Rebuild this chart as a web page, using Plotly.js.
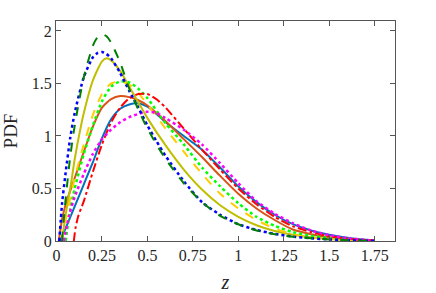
<!DOCTYPE html>
<html><head><meta charset="utf-8">
<script src="https://cdn.plot.ly/plotly-3.0.1.min.js"></script>
<style>html,body{margin:0;padding:0;background:#fff}#g{width:436px;height:293px}</style>
</head><body><div id="g"></div>
<script>
// --- data ---
const zCyan = [0.02,0.05,0.1,0.15,0.2,0.25,0.3,0.35,0.4,0.45,0.5,0.55,0.6,0.7,0.8,0.9,1.0,1.1,1.2,1.3,1.4,1.5,1.6,1.7,1.75];
const pCyan = [0,0.12,0.33,0.54,0.75,0.98,1.16,1.26,1.3,1.31,1.28,1.21,1.13,1.0,0.87,0.70,0.52,0.37,0.25,0.16,0.1,0.06,0.03,0.012,0.006];

const zOrange = [0.012,0.03,0.05,0.1,0.15,0.2,0.25,0.3,0.35,0.4,0.45,0.5,0.6,0.7,0.8,0.9,1.0,1.1,1.2,1.3,1.4,1.5,1.6,1.7,1.75];
const pOrange = [0,0.2,0.35,0.6,0.85,1.09,1.27,1.35,1.38,1.37,1.34,1.29,1.14,0.97,0.8,0.62,0.45,0.31,0.20,0.11,0.065,0.035,0.016,0.006,0.003];

const zOlive = [0.03,0.05,0.08,0.1,0.13,0.15,0.2,0.25,0.275,0.3,0.35,0.4,0.45,0.5,0.6,0.7,0.8,0.9,1.0,1.1,1.2,1.3,1.4,1.5,1.6,1.7,1.75];
const pOlive = [0,0.25,0.55,0.78,1.06,1.22,1.53,1.71,1.74,1.72,1.62,1.47,1.32,1.17,0.91,0.68,0.49,0.34,0.23,0.15,0.095,0.06,0.035,0.02,0.01,0.004,0.002];

const zYellow = [0.03,0.05,0.1,0.15,0.2,0.25,0.3,0.35,0.4,0.45,0.5,0.6,0.7,0.8,0.9,1.0,1.1,1.2,1.3,1.4,1.5,1.6,1.7,1.75];
const pYellow = [0,0.2,0.6,0.92,1.2,1.4,1.5,1.52,1.49,1.41,1.3,1.07,0.85,0.64,0.45,0.31,0.2,0.12,0.065,0.035,0.018,0.009,0.004,0.002];

const zLime = [0.05,0.075,0.1,0.15,0.2,0.25,0.3,0.35,0.4,0.45,0.5,0.6,0.7,0.8,0.9,1.0,1.1,1.2,1.3,1.4,1.5,1.6,1.7,1.75];
const pLime = [0,0.3,0.5,0.83,1.1,1.33,1.47,1.52,1.51,1.45,1.36,1.12,0.92,0.70,0.52,0.36,0.23,0.145,0.085,0.05,0.027,0.013,0.005,0.002];

const zRed = [0.095,0.1,0.105,0.12,0.15,0.2,0.25,0.3,0.35,0.4,0.45,0.5,0.55,0.6,0.7,0.8,0.9,1.0,1.1,1.2,1.3,1.4,1.5,1.6,1.7,1.75];
const pRed = [0,0.07,0.13,0.24,0.38,0.66,0.92,1.13,1.27,1.36,1.40,1.40,1.35,1.27,1.07,0.87,0.68,0.5,0.35,0.23,0.14,0.085,0.045,0.022,0.009,0.004];

const zMagenta = [0.04,0.07,0.1,0.15,0.2,0.25,0.3,0.35,0.4,0.45,0.5,0.55,0.6,0.7,0.8,0.9,1.0,1.1,1.2,1.3,1.4,1.5,1.6,1.7,1.75];
const pMagenta = [0,0.25,0.42,0.64,0.83,0.97,1.06,1.13,1.18,1.21,1.23,1.22,1.17,1.06,0.92,0.74,0.55,0.38,0.26,0.17,0.1,0.055,0.027,0.011,0.005];

const zBlue = [0.015,0.03,0.05,0.075,0.1,0.15,0.2,0.225,0.25,0.275,0.3,0.35,0.4,0.45,0.5,0.55,0.6,0.7,0.8,0.9,1.0,1.1,1.2,1.3,1.4,1.5,1.6,1.7,1.75];
const pBlue = [0,0.35,0.65,0.98,1.22,1.56,1.75,1.79,1.80,1.78,1.74,1.6,1.43,1.27,1.1,0.95,0.81,0.57,0.37,0.25,0.16,0.105,0.067,0.042,0.026,0.015,0.008,0.003,0.001];

const zGreen = [0.03,0.05,0.075,0.1,0.15,0.2,0.225,0.25,0.275,0.3,0.35,0.4,0.45,0.5,0.55,0.6,0.7,0.8,0.9,1.0,1.1,1.2,1.3,1.4,1.5,1.6,1.7,1.75];
const pGreen = [0,0.4,0.8,1.1,1.56,1.86,1.94,1.97,1.95,1.89,1.7,1.45,1.25,1.07,0.92,0.78,0.55,0.37,0.24,0.16,0.10,0.065,0.04,0.025,0.014,0.007,0.003,0.001];

const xTicks = [0,0.25,0.5,0.75,1,1.25,1.5,1.75];
const xTickText = ['0','0.25','0.5','0.75','1','1.25','1.5','1.75'];
const yTicks = [0,0.5,1,1.5,2];
const yTickText = ['0','0.5','1','1.5','2'];

function tr(x, y, color, dash, w) {
  return {x: x, y: y, type: 'scatter', mode: 'lines',
    line: {color: color, dash: dash, width: w || 2, shape: 'spline', smoothing: 0.6},
    hoverinfo: 'skip', showlegend: false};
}
const data = [
  tr(zCyan, pCyan, '#0072BD', 'solid'),
  tr(zOrange, pOrange, '#D95319', 'solid'),
  tr(zOlive, pOlive, '#BFBF00', 'solid'),
  tr(zYellow, pYellow, '#FFCC00', 'dash'),
  tr(zLime, pLime, '#00FF00', 'dot', 2.5),
  tr(zRed, pRed, '#FF0000', 'dashdot'),
  tr(zMagenta, pMagenta, '#FF00FF', 'dot', 2.5),
  tr(zBlue, pBlue, '#0000FF', 'dot', 2.5),
  tr(zGreen, pGreen, '#008000', 'dash')
];
const font = {family: 'Liberation Serif, Times New Roman, serif', size: 16, color: '#262626'};
const layout = {
  width: 436, height: 293,
  margin: {l: 56, r: 41, t: 21, b: 52},
  paper_bgcolor: '#fff', plot_bgcolor: '#fff',
  font: font,
  xaxis: {range: [-0.003, 1.862], tickvals: xTicks, ticktext: xTickText,
    ticks: 'inside', ticklen: 5, tickcolor: '#555', mirror: 'allticks',
    showline: true, linecolor: '#555', linewidth: 1, showgrid: false, zeroline: false,
    tickfont: font,
    title: {text: 'z', font: {family: 'Liberation Serif, serif', size: 20, color: '#262626', style: 'italic'}, standoff: 12}},
  yaxis: {range: [0, 2.095], tickvals: yTicks, ticktext: yTickText,
    ticks: 'inside', ticklen: 5, tickcolor: '#555', mirror: 'allticks',
    showline: true, linecolor: '#555', linewidth: 1, showgrid: false, zeroline: false,
    tickfont: font,
    title: {text: 'PDF', font: {family: 'Liberation Serif, serif', size: 19, color: '#262626'}, standoff: 10}}
};
Plotly.newPlot('g', data, layout, {staticPlot: true, displayModeBar: false});
</script>
</body></html>
